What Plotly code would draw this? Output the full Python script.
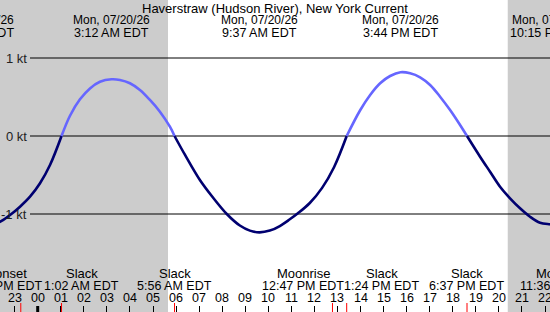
import plotly.graph_objects as go
import pandas as pd

# ---------------- data ----------------
times = [
    "2026-07-19 21:22", "2026-07-19 22:22", "2026-07-19 22:48", "2026-07-19 23:14", "2026-07-19 23:40",
    "2026-07-20 00:06", "2026-07-20 00:32", "2026-07-20 01:02", "2026-07-20 01:24", "2026-07-20 01:50",
    "2026-07-20 02:16", "2026-07-20 02:42", "2026-07-20 03:12", "2026-07-20 03:34", "2026-07-20 04:00",
    "2026-07-20 04:26", "2026-07-20 04:52", "2026-07-20 05:18", "2026-07-20 05:44", "2026-07-20 05:56",
    "2026-07-20 06:23", "2026-07-20 07:02", "2026-07-20 07:37", "2026-07-20 08:12", "2026-07-20 08:46",
    "2026-07-20 09:12", "2026-07-20 09:37", "2026-07-20 10:04", "2026-07-20 10:30", "2026-07-20 10:56",
    "2026-07-20 11:17", "2026-07-20 11:48", "2026-07-20 12:20", "2026-07-20 12:51", "2026-07-20 13:24",
    "2026-07-20 13:59", "2026-07-20 14:25", "2026-07-20 14:51", "2026-07-20 15:17", "2026-07-20 15:44",
    "2026-07-20 16:09", "2026-07-20 16:35", "2026-07-20 17:01", "2026-07-20 17:27", "2026-07-20 17:53",
    "2026-07-20 18:19", "2026-07-20 18:37", "2026-07-20 19:11", "2026-07-20 19:37", "2026-07-20 20:03",
    "2026-07-20 20:29", "2026-07-20 20:55", "2026-07-20 21:21", "2026-07-20 21:47", "2026-07-20 22:13",
    "2026-07-20 22:15",
]
speeds = [
    -1.150, -1.099, -1.013, -0.906, -0.778,
    -0.606, -0.372, 0.0, 0.260, 0.470,
    0.610, 0.695, 0.727, 0.718, 0.676,
    0.590, 0.462, 0.312, 0.119, 0.0,
    -0.240, -0.564, -0.795, -1.000, -1.148,
    -1.213, -1.235, -1.213, -1.154, -1.068,
    -0.991, -0.859, -0.665, -0.400, 0.0,
    0.330, 0.526, 0.676, 0.769, 0.817,
    0.804, 0.753, 0.654, 0.504, 0.333,
    0.141, 0.0, -0.265, -0.458, -0.650,
    -0.799, -0.927, -1.035, -1.112, -1.132,
    -1.135,
]

title_text = "Haverstraw (Hudson River), New York Current"

# max / min current events (top labels)
ext_times = ["2026-07-19 21:22", "2026-07-20 03:12", "2026-07-20 09:37", "2026-07-20 15:44", "2026-07-20 22:15"]
ext_dates = ["Sun, 07/19/26", "Mon, 07/20/26", "Mon, 07/20/26", "Mon, 07/20/26", "Mon, 07/20/26"]
ext_clock = ["9:22 PM EDT", "3:12 AM EDT", "9:37 AM EDT", "3:44 PM EDT", "10:15 PM EDT"]

# bottom events
ev_times = ["2026-07-19 23:16", "2026-07-20 01:02", "2026-07-20 05:56", "2026-07-20 12:47",
            "2026-07-20 13:24", "2026-07-20 18:37", "2026-07-20 23:36"]
ev_names = ["Moonset", "Slack", "Slack", "Moonrise", "Slack", "Slack", "Moonset"]
ev_clock = ["11:16 PM EDT", "1:02 AM EDT", "5:56 AM EDT", "12:47 PM EDT",
            "1:24 PM EDT", "6:37 PM EDT", "11:36 PM EDT"]
ev_shift = [-19, 20, 0, -29, 35, 0, -21]   # label de-overlap offsets (px)

# night periods (sunset -> sunrise)
night_start = ["2026-07-19 20:24", "2026-07-20 20:23"]
night_end = ["2026-07-20 05:39", "2026-07-21 05:40"]

hour_times = ["2026-07-19 23:00"] + ["2026-07-20 %02d:00" % h for h in range(0, 23)]
hour_labels = ["23"] + ["%02d" % h for h in range(0, 23)]

kt_levels = [1, 0, -1]
kt_labels = ["1 kt", "0 kt", "-1 kt"]

# ---------------- layout helpers ----------------
W, H = 550, 312
x_start = pd.Timestamp("2026-07-19 22:21:54")
x_end = pd.Timestamp("2026-07-20 22:12:58")
y_range = [-2.2564, 1.7436]

FLOOD = "#6666ff"
EBB = "#000070"
NIGHT = "#cccccc"
FONT = "Liberation Sans, Arial, sans-serif"


def frac(t):
    return (pd.Timestamp(t) - x_start) / (x_end - x_start)


def ppx(p):
    return 1 - p / H


fig = go.Figure()

# split the series at slack points and colour by flow direction
segs, cur = [], [0]
for i in range(1, len(times)):
    cur.append(i)
    if speeds[i] == 0 and i != len(times) - 1:
        segs.append(cur)
        cur = [i]
segs.append(cur)
for seg in segs:
    vals = [speeds[i] for i in seg]
    peak = max(vals, key=abs)
    fig.add_trace(go.Scatter(
        x=[times[i] for i in seg], y=vals, mode="lines",
        line=dict(color=FLOOD if peak > 0 else EBB, width=2.6, shape="spline", smoothing=1.0),
        hoverinfo="skip", showlegend=False))

shapes = []
for a, b in zip(night_start, night_end):
    shapes.append(dict(type="rect", xref="x", yref="paper", x0=a, x1=b, y0=0, y1=1,
                       fillcolor=NIGHT, line=dict(width=0), layer="below"))
for v in kt_levels:
    shapes.append(dict(type="line", xref="paper", yref="y", x0=30 / W, x1=1, y0=v, y1=v,
                       line=dict(color="black", width=1), layer="below"))
# midnight tick (thick)
shapes.append(dict(type="line", xref="x", yref="paper", x0="2026-07-20 00:00", x1="2026-07-20 00:00",
                   y0=0, y1=6 / H, line=dict(color="black", width=3)))
# event ticks (red)
for t in ev_times:
    shapes.append(dict(type="line", xref="x", yref="paper", x0=t, x1=t, y0=0, y1=9 / H,
                       line=dict(color="#ff0000", width=1)))

ann = []
ann.append(dict(text=title_text, xref="paper", yref="paper", x=0.5, y=ppx(8.5),
                xanchor="center", yanchor="middle", showarrow=False,
                font=dict(family=FONT, size=13, color="black")))
for t, d, c in zip(ext_times, ext_dates, ext_clock):
    ann.append(dict(text=d, xref="paper", yref="paper", x=frac(t), y=ppx(20.5),
                    xanchor="center", yanchor="middle", showarrow=False,
                    font=dict(family=FONT, size=12, color="black")))
    ann.append(dict(text=c, xref="paper", yref="paper", x=frac(t), y=ppx(33),
                    xanchor="center", yanchor="middle", showarrow=False,
                    font=dict(family=FONT, size=12.5, color="black")))
for t, n, c, s in zip(ev_times, ev_names, ev_clock, ev_shift):
    ann.append(dict(text=n, xref="paper", yref="paper", x=frac(t), y=ppx(273.5), xshift=s,
                    xanchor="center", yanchor="middle", showarrow=False,
                    font=dict(family=FONT, size=13, color="black")))
    ann.append(dict(text=c, xref="paper", yref="paper", x=frac(t), y=ppx(285.5), xshift=s,
                    xanchor="center", yanchor="middle", showarrow=False,
                    font=dict(family=FONT, size=12.5, color="black")))
for t, lab in zip(hour_times, hour_labels):
    ann.append(dict(text=lab, xref="x", yref="paper", x=t, y=ppx(297.5),
                    xanchor="center", yanchor="middle", showarrow=False,
                    font=dict(family=FONT, size=12.5, color="black")))
for v, lab in zip(kt_levels, kt_labels):
    ann.append(dict(text=lab, xref="paper", yref="y", x=28.5 / W, y=v,
                    xanchor="right", yanchor="middle", showarrow=False,
                    font=dict(family=FONT, size=13, color="#222222")))

fig.update_layout(
    width=W, height=H, autosize=False,
    margin=dict(l=0, r=0, t=0, b=0, pad=0),
    paper_bgcolor="white", plot_bgcolor="white",
    shapes=shapes, annotations=ann, showlegend=False,
    xaxis=dict(type="date", range=[x_start, x_end], showgrid=False, zeroline=False,
               showline=False, ticks="inside", ticklen=6, tickwidth=1, tickcolor="black",
               tick0="2026-07-20 00:00", dtick=3600000, showticklabels=False, fixedrange=True),
    yaxis=dict(range=y_range, showgrid=False, zeroline=False, showticklabels=False,
               ticks="", showline=False, fixedrange=True),
)

fig.write_html("out.html")
